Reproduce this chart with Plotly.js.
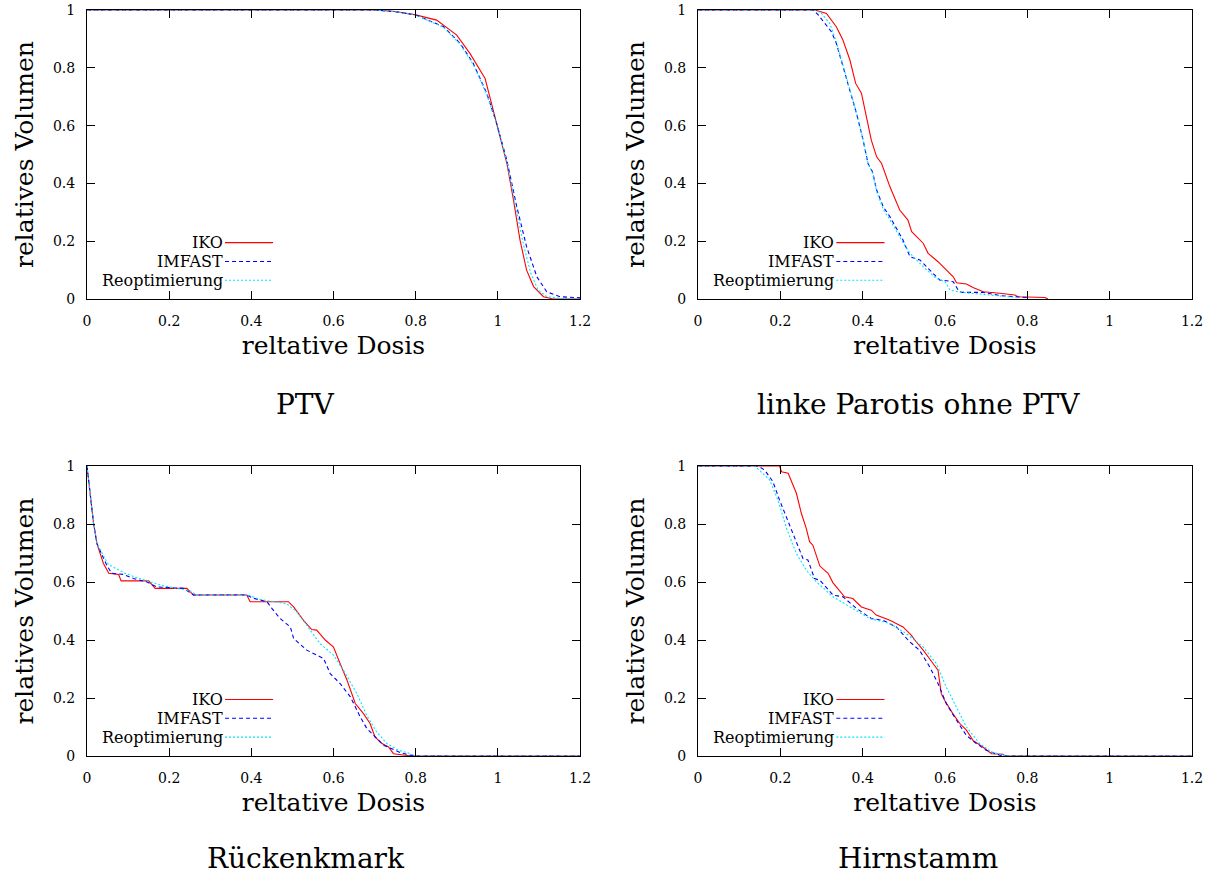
<!DOCTYPE html>
<html>
<head>
<meta charset="utf-8">
<script src="https://cdn.plot.ly/plotly-3.0.1.min.js"></script>
<style>html,body{margin:0;padding:0;background:#fff;}#chart{width:1215px;height:877px;}</style>
</head>
<body>
<div id="chart"></div>
<script>
// ---- data ----
const seriesNames = ['IKO', 'IMFAST', 'Reoptimierung'];
const panelTitles = ['PTV', 'linke Parotis ohne PTV', 'Rückenkmark', 'Hirnstamm'];
const xAxisTitle = 'reltative Dosis';
const yAxisTitle = 'relatives Volumen';
const doseTicks = [0, 0.2, 0.4, 0.6, 0.8, 1, 1.2];
const volumeTicks = [0, 0.2, 0.4, 0.6, 0.8, 1];

// PTV
const ptvIkoX = [0, 0.70, 0.75, 0.80, 0.851, 0.90, 0.932, 0.969, 0.997, 1.022, 1.038, 1.054, 1.070, 1.087, 1.111, 1.135, 1.2];
const ptvIkoY = [1, 1, 0.995, 0.983, 0.965, 0.913, 0.85, 0.763, 0.608, 0.469, 0.343, 0.204, 0.10, 0.043, 0.008, 0, 0];
const ptvImfastX = [0, 0.70, 0.75, 0.80, 0.868, 0.908, 0.94, 0.973, 0.997, 1.022, 1.046, 1.07, 1.095, 1.119, 1.151, 1.2];
const ptvImfastY = [1, 1, 0.994, 0.983, 0.942, 0.885, 0.816, 0.712, 0.608, 0.48, 0.32, 0.181, 0.077, 0.025, 0.008, 0.004];
const ptvReoptX = [0, 0.70, 0.75, 0.80, 0.868, 0.908, 0.94, 0.973, 0.997, 1.022, 1.042, 1.062, 1.08, 1.098, 1.12, 1.15, 1.2];
const ptvReoptY = [1, 1, 0.994, 0.983, 0.94, 0.882, 0.812, 0.708, 0.605, 0.475, 0.33, 0.19, 0.09, 0.03, 0.008, 0.002, 0];

// linke Parotis ohne PTV
const parIkoX = [0, 0.284, 0.312, 0.336, 0.352, 0.369, 0.383, 0.397, 0.409, 0.421, 0.434, 0.446, 0.466, 0.49, 0.51, 0.519, 0.547, 0.559, 0.583, 0.62, 0.628, 0.652, 0.668, 0.693, 0.733, 0.77, 0.777, 0.843, 0.85];
const parIkoY = [1, 1, 0.988, 0.942, 0.896, 0.827, 0.746, 0.712, 0.631, 0.55, 0.492, 0.469, 0.389, 0.308, 0.273, 0.233, 0.193, 0.158, 0.129, 0.077, 0.056, 0.052, 0.04, 0.025, 0.02, 0.014, 0.008, 0.005, 0];
const parImfastX = [0, 0.28, 0.292, 0.324, 0.336, 0.352, 0.369, 0.385, 0.401, 0.413, 0.424, 0.434, 0.45, 0.466, 0.498, 0.515, 0.539, 0.563, 0.587, 0.62, 0.632, 0.64, 0.693, 0.733, 0.798, 0.80];
const parImfastY = [1, 1, 0.983, 0.925, 0.885, 0.804, 0.723, 0.642, 0.55, 0.469, 0.44, 0.377, 0.319, 0.285, 0.204, 0.146, 0.135, 0.10, 0.066, 0.06, 0.031, 0.023, 0.023, 0.012, 0.005, 0];
const parReoptX = [0, 0.285, 0.30, 0.32, 0.336, 0.352, 0.369, 0.385, 0.401, 0.413, 0.424, 0.434, 0.45, 0.466, 0.498, 0.515, 0.547, 0.579, 0.60, 0.612, 0.64, 0.709, 0.774, 0.78];
const parReoptY = [1, 1, 0.988, 0.954, 0.89, 0.81, 0.728, 0.645, 0.552, 0.47, 0.435, 0.372, 0.31, 0.275, 0.195, 0.158, 0.112, 0.071, 0.06, 0.031, 0.023, 0.014, 0.005, 0];

// Rückenmark
const rmIkoX = [0, 0.008, 0.016, 0.024, 0.04, 0.053, 0.077, 0.083, 0.15, 0.166, 0.243, 0.259, 0.389, 0.397, 0.49, 0.503, 0.527, 0.547, 0.559, 0.58, 0.60, 0.616, 0.633, 0.653, 0.673, 0.689, 0.701, 0.718, 0.734, 0.746, 0.783, 0.79, 1.2];
const rmIkoY = [1, 0.906, 0.802, 0.733, 0.664, 0.63, 0.626, 0.604, 0.604, 0.578, 0.578, 0.555, 0.555, 0.532, 0.532, 0.514, 0.468, 0.436, 0.434, 0.40, 0.376, 0.319, 0.261, 0.181, 0.146, 0.112, 0.066, 0.043, 0.031, 0.008, 0.002, 0, 0];
const rmImfastX = [0, 0.008, 0.016, 0.024, 0.048, 0.06, 0.089, 0.113, 0.146, 0.17, 0.235, 0.259, 0.389, 0.405, 0.438, 0.45, 0.47, 0.495, 0.503, 0.535, 0.551, 0.576, 0.592, 0.616, 0.641, 0.665, 0.681, 0.697, 0.722, 0.742, 0.762, 0.787, 0.80, 1.2];
const rmImfastY = [1, 0.906, 0.802, 0.733, 0.658, 0.63, 0.626, 0.612, 0.60, 0.583, 0.578, 0.555, 0.555, 0.544, 0.532, 0.509, 0.474, 0.445, 0.405, 0.365, 0.353, 0.336, 0.284, 0.25, 0.204, 0.135, 0.095, 0.071, 0.037, 0.025, 0.012, 0.003, 0, 0];
const rmReoptX = [0, 0.008, 0.016, 0.024, 0.052, 0.093, 0.12, 0.186, 0.25, 0.267, 0.397, 0.42, 0.486, 0.511, 0.543, 0.567, 0.60, 0.624, 0.657, 0.681, 0.705, 0.73, 0.758, 0.783, 0.80, 1.2];
const rmReoptY = [1, 0.906, 0.802, 0.733, 0.66, 0.63, 0.615, 0.587, 0.57, 0.555, 0.553, 0.54, 0.525, 0.497, 0.434, 0.388, 0.348, 0.296, 0.215, 0.14, 0.083, 0.043, 0.02, 0.01, 0, 0];

// Hirnstamm
const hsIkoX = [0, 0.198, 0.203, 0.219, 0.239, 0.251, 0.263, 0.271, 0.279, 0.296, 0.316, 0.328, 0.356, 0.376, 0.397, 0.421, 0.433, 0.466, 0.498, 0.518, 0.53, 0.547, 0.571, 0.583, 0.591, 0.599, 0.619, 0.636, 0.652, 0.668, 0.692, 0.713, 0.741, 0.745, 1.2];
const hsIkoY = [1, 1, 0.98, 0.975, 0.906, 0.837, 0.785, 0.739, 0.727, 0.655, 0.63, 0.597, 0.549, 0.543, 0.514, 0.503, 0.486, 0.468, 0.445, 0.417, 0.394, 0.365, 0.319, 0.296, 0.215, 0.192, 0.146, 0.112, 0.089, 0.054, 0.031, 0.008, 0.006, 0, 0];
const hsImfastX = [0, 0.146, 0.162, 0.182, 0.198, 0.219, 0.239, 0.255, 0.267, 0.283, 0.296, 0.328, 0.352, 0.385, 0.421, 0.449, 0.482, 0.514, 0.538, 0.563, 0.583, 0.603, 0.628, 0.652, 0.676, 0.70, 0.733, 0.745, 1.2];
const hsImfastY = [1, 1, 0.986, 0.946, 0.883, 0.808, 0.733, 0.681, 0.676, 0.612, 0.606, 0.555, 0.549, 0.509, 0.474, 0.468, 0.445, 0.394, 0.365, 0.307, 0.25, 0.181, 0.123, 0.071, 0.043, 0.02, 0.003, 0, 0];
const hsReoptX = [0, 0.138, 0.174, 0.194, 0.215, 0.239, 0.263, 0.288, 0.328, 0.368, 0.417, 0.466, 0.506, 0.547, 0.579, 0.603, 0.628, 0.652, 0.684, 0.713, 0.741, 0.75, 1.2];
const hsReoptY = [1, 1, 0.952, 0.883, 0.785, 0.698, 0.641, 0.60, 0.549, 0.514, 0.474, 0.457, 0.422, 0.376, 0.319, 0.238, 0.169, 0.10, 0.043, 0.014, 0.003, 0, 0];

// legend sample positions (in data units of each panel)
const legendTextX = 0.336;
const legendLineEndX = 0.453;
const legendRowY = [0.195, 0.13, 0.065];

// ---- styling ----
const FONT = 'DejaVu Serif, Liberation Serif, serif';
const lineStyles = [
  {color: '#ff0000', width: 1.1, dash: 'solid'},
  {color: '#0000ff', width: 1.1, dash: '4px,3px'},
  {color: '#00e5ff', width: 1.1, dash: '2px,2px'}
];

const panels = [
  {xs: [ptvIkoX, ptvImfastX, ptvReoptX], ys: [ptvIkoY, ptvImfastY, ptvReoptY]},
  {xs: [parIkoX, parImfastX, parReoptX], ys: [parIkoY, parImfastY, parReoptY]},
  {xs: [rmIkoX, rmImfastX, rmReoptX], ys: [rmIkoY, rmImfastY, rmReoptY]},
  {xs: [hsIkoX, hsImfastX, hsReoptX], ys: [hsIkoY, hsImfastY, hsReoptY]}
];

const W = 1215, H = 877;
const xDomains = [[87 / W, 580 / W], [698 / W, 1192 / W], [87 / W, 580 / W], [698 / W, 1192 / W]];
const yDomains = [[(H - 299) / H, (H - 10) / H], [(H - 299) / H, (H - 10) / H], [(H - 756) / H, (H - 466) / H], [(H - 756) / H, (H - 466) / H]];
const titlePos = [[305, 405], [918, 405], [306, 858], [918, 858]];

const traces = [];
const layout = {
  width: W, height: H,
  margin: {l: 0, r: 0, t: 0, b: 0},
  paper_bgcolor: '#fff', plot_bgcolor: '#fff',
  showlegend: false,
  font: {family: FONT, color: '#000'},
  annotations: [], shapes: []
};

panels.forEach((p, i) => {
  const n = i === 0 ? '' : String(i + 1);
  const xa = 'x' + n, ya = 'y' + n;
  for (let s = 0; s < 3; s++) {
    traces.push({
      type: 'scatter', mode: 'lines', x: p.xs[s], y: p.ys[s],
      xaxis: xa, yaxis: ya, name: seriesNames[s],
      line: lineStyles[s], hoverinfo: 'skip'
    });
    // legend: text then sample line
    layout.annotations.push({
      xref: xa, yref: ya, x: legendTextX, y: legendRowY[s],
      text: seriesNames[s], showarrow: false, xanchor: 'right', yanchor: 'middle',
      font: {family: FONT, size: 16, color: '#000'}
    });
    layout.shapes.push({
      type: 'line', xref: xa, yref: ya,
      x0: legendTextX, x1: legendLineEndX, y0: legendRowY[s], y1: legendRowY[s],
      line: lineStyles[s]
    });
  }
  const axCommon = {
    showline: true, linecolor: '#000', linewidth: 1, mirror: 'ticks',
    ticks: 'inside', ticklen: 8, tickwidth: 1, tickcolor: '#000',
    showgrid: false, zeroline: false, fixedrange: true,
    tickfont: {family: FONT, size: 14, color: '#000'}
  };
  layout['xaxis' + n] = Object.assign({}, axCommon, {
    domain: xDomains[i], anchor: ya, range: [0, 1.2],
    tickvals: doseTicks, ticktext: doseTicks.map(String),
    ticklabelstandoff: 9,
    title: {text: xAxisTitle, font: {family: FONT, size: 25, color: '#000'}, standoff: 8}
  });
  layout['yaxis' + n] = Object.assign({}, axCommon, {
    domain: yDomains[i], anchor: xa, range: [0, 1],
    tickvals: volumeTicks, ticktext: volumeTicks.map(String),
    ticklabelstandoff: 8,
    title: {text: yAxisTitle, font: {family: FONT, size: 25, color: '#000'}, standoff: 12}
  });
  layout.annotations.push({
    xref: 'paper', yref: 'paper', x: titlePos[i][0] / W, y: (H - titlePos[i][1]) / H,
    text: panelTitles[i], showarrow: false, xanchor: 'center', yanchor: 'middle',
    font: {family: FONT, size: 28, color: '#000'}
  });
});

Plotly.newPlot('chart', traces, layout, {staticPlot: true, displayModeBar: false});
</script>
</body>
</html>
